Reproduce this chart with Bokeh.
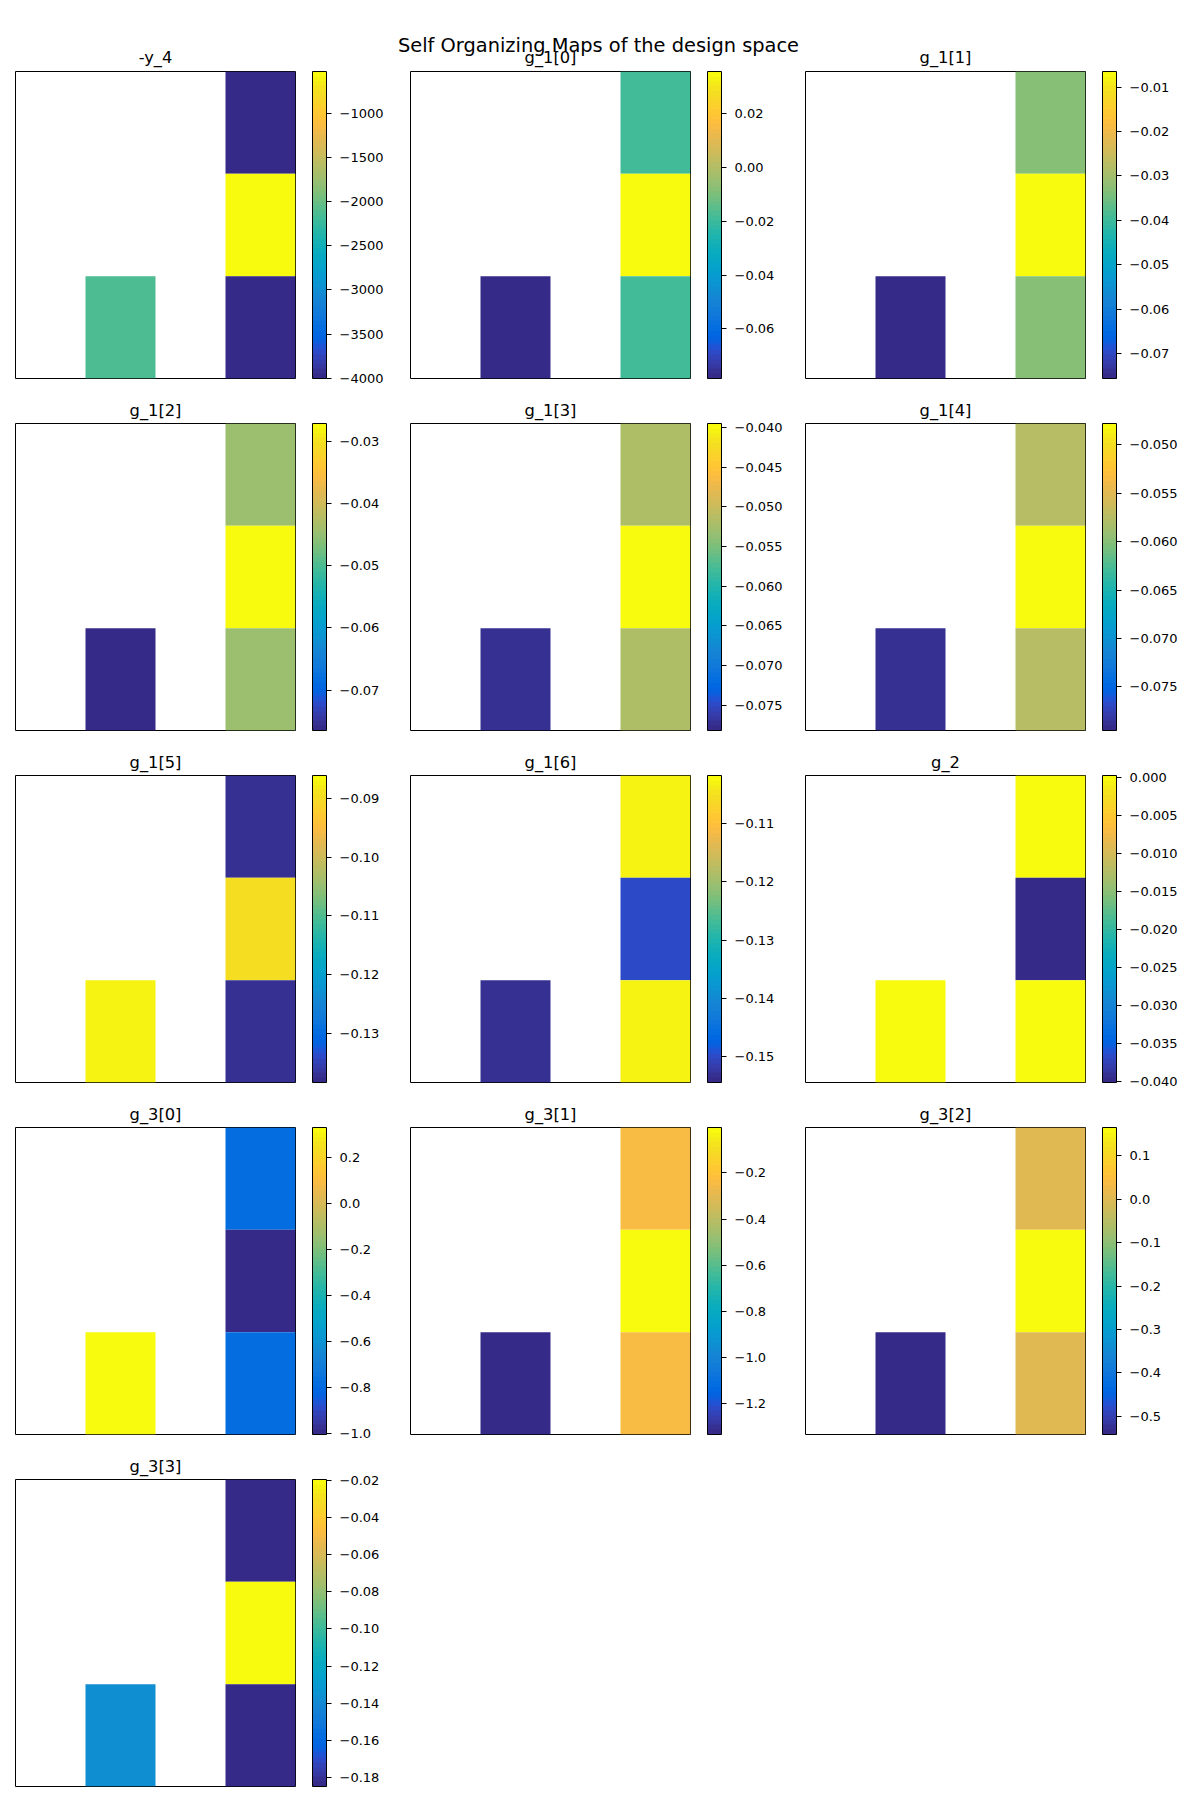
from bokeh.plotting import figure
from bokeh.models import (ColumnDataSource, LinearColorMapper, ColorBar, FixedTicker,
                          CustomJSTickFormatter, Label, Range1d)
from bokeh.layouts import column, row
from bokeh.embed import file_html
from bokeh.resources import INLINE

# ---------------- data ----------------
suptitle = "Self Organizing Maps of the design space"
titles = ["-y_4", "g_1[0]", "g_1[1]", "g_1[2]", "g_1[3]", "g_1[4]", "g_1[5]",
          "g_1[6]", "g_2", "g_3[0]", "g_3[1]", "g_3[2]", "g_3[3]"]

# SOM grid: 4 columns x 3 rows; occupied cells (column index, row index from top)
cell_cols = [3, 3, 3, 1]
cell_rows = [0, 1, 2, 2]

# values of the occupied cells, per variable, in the order of cell_cols/cell_rows
vals_y4 = [-4003, -524, -4003, -2128]
vals_g1_0 = [-0.0187, 0.0358, -0.0187, -0.0785]
vals_g1_1 = [-0.0328, -0.0065, -0.0328, -0.0756]
vals_g1_2 = [-0.0444, -0.0271, -0.0444, -0.0765]
vals_g1_3 = [-0.0518, -0.0395, -0.0518, -0.0774]
vals_g1_4 = [-0.0574, -0.0478, -0.0574, -0.0787]
vals_g1_5 = [-0.1374, -0.0896, -0.1374, -0.0870]
vals_g1_6 = [-0.1027, -0.1500, -0.1027, -0.1534]
vals_g2 = [0.0002, -0.0401, 0.0002, -0.0002]
vals_g3_0 = [-0.794, -1.006, -0.794, 0.317]
vals_g3_1 = [-0.236, -0.003, -0.236, -1.335]
vals_g3_2 = [0.0079, 0.1647, 0.0079, -0.5416]
vals_g3_3 = [-0.1849, -0.0195, -0.1849, -0.1376]
all_vals = [vals_y4, vals_g1_0, vals_g1_1, vals_g1_2, vals_g1_3, vals_g1_4, vals_g1_5,
            vals_g1_6, vals_g2, vals_g3_0, vals_g3_1, vals_g3_2, vals_g3_3]

# colour-bar limits
cb_low = [-4003, -0.0785, -0.0756, -0.0765, -0.0782, -0.0795, -0.1384, -0.1545,
          -0.0401, -1.006, -1.335, -0.5416, -0.1849]
cb_high = [-524, 0.0358, -0.0065, -0.0271, -0.0395, -0.0478, -0.0861, -0.1017,
           0.0002, 0.33, -0.003, 0.1647, -0.0195]

# colour-bar ticks and label decimals
cb_ticks = [
    [-4000, -3500, -3000, -2500, -2000, -1500, -1000],
    [-0.06, -0.04, -0.02, 0.0, 0.02],
    [-0.07, -0.06, -0.05, -0.04, -0.03, -0.02, -0.01],
    [-0.07, -0.06, -0.05, -0.04, -0.03],
    [-0.075, -0.07, -0.065, -0.06, -0.055, -0.05, -0.045, -0.04],
    [-0.075, -0.07, -0.065, -0.06, -0.055, -0.05],
    [-0.13, -0.12, -0.11, -0.10, -0.09],
    [-0.15, -0.14, -0.13, -0.12, -0.11],
    [-0.04, -0.035, -0.03, -0.025, -0.02, -0.015, -0.01, -0.005, 0.0],
    [-1.0, -0.8, -0.6, -0.4, -0.2, 0.0, 0.2],
    [-1.2, -1.0, -0.8, -0.6, -0.4, -0.2],
    [-0.5, -0.4, -0.3, -0.2, -0.1, 0.0, 0.1],
    [-0.18, -0.16, -0.14, -0.12, -0.10, -0.08, -0.06, -0.04, -0.02],
]
cb_decimals = [0, 2, 2, 2, 3, 3, 2, 2, 3, 1, 1, 1, 2]

# ---------------- parula colormap (64 entries) ----------------
_parula = [[0.2081, 0.1663, 0.5292], [0.2116, 0.1898, 0.5777], [0.2123, 0.2138, 0.6270],
           [0.2081, 0.2386, 0.6771], [0.1959, 0.2645, 0.7279], [0.1707, 0.2919, 0.7792],
           [0.1253, 0.3242, 0.8303], [0.0591, 0.3598, 0.8683], [0.0117, 0.3875, 0.8820],
           [0.0060, 0.4086, 0.8828], [0.0165, 0.4266, 0.8786], [0.0329, 0.4430, 0.8720],
           [0.0498, 0.4586, 0.8641], [0.0629, 0.4737, 0.8554], [0.0723, 0.4887, 0.8467],
           [0.0779, 0.5040, 0.8384], [0.0793, 0.5200, 0.8312], [0.0749, 0.5375, 0.8263],
           [0.0641, 0.5570, 0.8240], [0.0488, 0.5772, 0.8228], [0.0343, 0.5966, 0.8199],
           [0.0265, 0.6137, 0.8135], [0.0239, 0.6287, 0.8038], [0.0231, 0.6418, 0.7913],
           [0.0228, 0.6535, 0.7768], [0.0267, 0.6642, 0.7607], [0.0384, 0.6743, 0.7436],
           [0.0590, 0.6838, 0.7254], [0.0843, 0.6928, 0.7062], [0.1133, 0.7015, 0.6859],
           [0.1453, 0.7098, 0.6646], [0.1801, 0.7177, 0.6424], [0.2178, 0.7250, 0.6193],
           [0.2586, 0.7317, 0.5954], [0.3022, 0.7376, 0.5712], [0.3482, 0.7424, 0.5473],
           [0.3953, 0.7459, 0.5244], [0.4420, 0.7481, 0.5033], [0.4871, 0.7491, 0.4840],
           [0.5300, 0.7491, 0.4661], [0.5709, 0.7485, 0.4494], [0.6099, 0.7473, 0.4337],
           [0.6473, 0.7456, 0.4188], [0.6834, 0.7435, 0.4044], [0.7184, 0.7411, 0.3905],
           [0.7525, 0.7384, 0.3768], [0.7858, 0.7356, 0.3633], [0.8185, 0.7327, 0.3498],
           [0.8507, 0.7299, 0.3360], [0.8824, 0.7274, 0.3217], [0.9139, 0.7258, 0.3063],
           [0.9450, 0.7261, 0.2886], [0.9739, 0.7314, 0.2666], [0.9938, 0.7455, 0.2403],
           [0.9990, 0.7653, 0.2164], [0.9955, 0.7861, 0.1967], [0.9880, 0.8066, 0.1794],
           [0.9789, 0.8271, 0.1633], [0.9697, 0.8481, 0.1475], [0.9626, 0.8705, 0.1309],
           [0.9589, 0.8949, 0.1132], [0.9598, 0.9218, 0.0948], [0.9661, 0.9514, 0.0755],
           [0.9763, 0.9831, 0.0538]]
PALETTE = ["#%02x%02x%02x" % tuple(int(round(v * 255)) for v in c) for c in _parula]

FONT = "DejaVu Sans"
TITLE_SIZE = "16.3px"
TICK_SIZE = "13px"

FRAME_W, FRAME_H = 280, 307
LEFT, RIGHT = 15, 100
TOP, BOTTOM = 35, 10
STRIP_H = 71


def make_panel(i, with_title):
    vals = all_vals[i]
    src = ColumnDataSource(dict(x=[c + 0.5 for c in cell_cols],
                                y=[2.5 - r for r in cell_rows],
                                v=vals))
    mapper = LinearColorMapper(palette=PALETTE, low=cb_low[i], high=cb_high[i])
    p = figure(frame_width=FRAME_W, frame_height=FRAME_H,
               x_range=(0, 4), y_range=(0, 3),
               min_border_left=LEFT, min_border_right=RIGHT,
               min_border_top=TOP if with_title else 0, min_border_bottom=BOTTOM,
               toolbar_location=None, output_backend="svg", tools="")
    p.rect(x="x", y="y", width=1, height=1, source=src,
           fill_color={"field": "v", "transform": mapper}, line_color=None)
    p.xaxis.visible = False
    p.yaxis.visible = False
    p.xgrid.visible = False
    p.ygrid.visible = False
    p.outline_line_color = "black"
    p.outline_line_width = 1
    p.outline_line_alpha = 1
    p.background_fill_color = "white"
    p.border_fill_color = "white"
    if with_title:
        p.title.text = titles[i]
        p.title.align = "center"
        p.title.text_font = FONT
        p.title.text_font_size = TITLE_SIZE
        p.title.text_font_style = "normal"
        p.title.text_color = "black"
        p.title.standoff = 8

    fmt = CustomJSTickFormatter(args=dict(d=cb_decimals[i]),
                                code="return tick.toFixed(d).replace('-', '\u2212');")
    cb = ColorBar(color_mapper=mapper, ticker=FixedTicker(ticks=cb_ticks[i]),
                  formatter=fmt, width=14, height=FRAME_H, padding=0, margin=0,
                  location=(FRAME_W + 17, 0),
                  bar_line_color="black", bar_line_width=1,
                  major_tick_line_color="black", major_tick_in=0, major_tick_out=5,
                  minor_tick_line_color=None, label_standoff=8,
                  major_label_text_font=FONT, major_label_text_font_size=TICK_SIZE,
                  major_label_text_color="black",
                  background_fill_color=None, border_line_color=None)
    p.add_layout(cb, "center")
    return p


# top strip holding the figure title and the first row's panel titles
PANEL_W = LEFT + FRAME_W + RIGHT
strip = figure(width=3 * PANEL_W, height=STRIP_H, x_range=Range1d(0, 3 * PANEL_W),
               y_range=Range1d(STRIP_H, 0), min_border=0, toolbar_location=None,
               output_backend="svg", tools="")
strip.xaxis.visible = False
strip.yaxis.visible = False
strip.xgrid.visible = False
strip.ygrid.visible = False
strip.outline_line_color = None
strip.add_layout(Label(x=598, y=44.5, text=suptitle, text_align="center",
                       text_baseline="alphabetic", text_font=FONT,
                       text_font_size="19.4px", text_color="black"))
for k in range(3):
    strip.add_layout(Label(x=k * PANEL_W + LEFT + FRAME_W / 2, y=56.5, text=titles[k],
                           text_align="center", text_baseline="alphabetic",
                           text_font=FONT, text_font_size=TITLE_SIZE, text_color="black"))

panels = [make_panel(i, i >= 3) for i in range(len(titles))]

rows = [row(*panels[k:k + 3]) for k in range(0, len(panels), 3)]
layout = column(strip, *rows)

open("out.html", "w").write(file_html(layout, INLINE))
